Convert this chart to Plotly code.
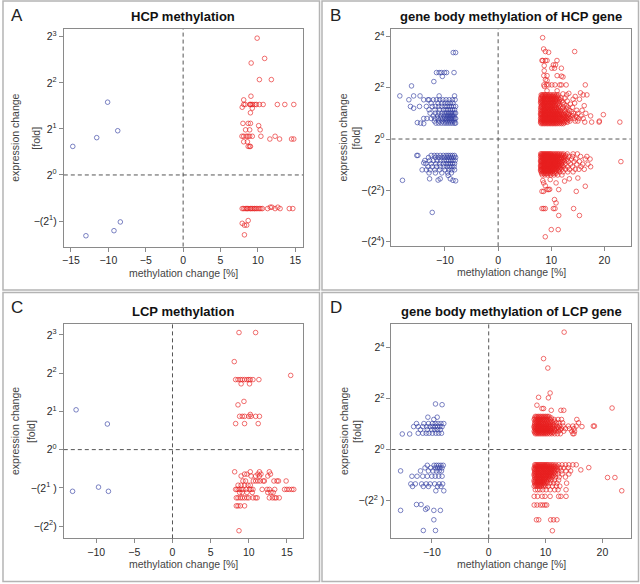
#! python3
# plot.py - methylation change vs expression change, four panels

import plotly.graph_objects as go

W, H = 640, 584

##################################################################################################
# data: x = methylation change [%], y = signed log2 expression fold change

# A: HCP methylation
a_red_pts = [(9.9, 2.97), (10.9, 2.53), (9.1, 2.43), (10.2, 2.07), (11.8, 2.07), (9.07, 1.71), (8.1, 1.63),
             (7.9, 1.47), (9.25, 1.45), (9.0, 1.35), (10.1, 1.07), (8.7, -0.99), (7.9, -1.05), (8.2, -1.09),
             (8.5, -1.09), (8.2, -1.30)]
a_red_rows = [
    (1.53, [8.1, 8.3, 8.9, 9.0, 9.1, 9.3, 9.6, 9.8, 10.2, 10.7, 12.6, 13.6, 14.8]),
    (1.12, [8.0, 8.7, 9.0]),
    (0.98, [8.35, 8.9, 10.3]),
    (0.84, [7.87, 8.1, 8.45, 8.67, 8.9, 9.25, 10.4, 12.3]),
    (0.78, [11.6, 12.9, 14.5, 14.8]),
    (0.72, [8.1, 8.6]),
    (0.62, [8.7, 8.9, 9.0]),
    (-0.70, [11.65, 11.87, 12.67]),
    (-0.73, [7.9, 8.1, 8.3, 8.5, 8.6, 8.8, 9.0, 9.1, 9.3, 9.5, 9.6, 9.8, 10.0, 10.2, 10.4, 10.6,
             11.3, 12.3, 12.97, 14.2, 14.67]),
]
a_blue_pts = [(-10.1, 1.58), (-14.76, 0.62), (-11.56, 0.81), (-8.75, 0.96), (-8.4, -1.02), (-9.25, -1.21),
              (-13.0, -1.32)]

# B: gene body methylation of HCP gene
b_red_pts = [(8.37, 3.95), (8.56, 3.51), (8.9, 3.41), (9.5, 3.38), (14.4, 3.41), (8.25, 3.06), (8.4, 3.06),
             (8.9, 3.06), (9.2, 3.06), (11.07, 3.06), (10.4, 2.89), (10.8, 2.89), (8.67, 2.86), (11.9, 2.76),
             (10.1, 2.76), (10.6, 2.76), (8.67, 2.66), (8.6, 2.47), (9.2, 2.47), (11.1, 2.47), (11.9, 2.45),
             (12.2, 2.42), (8.9, 2.31), (9.2, 2.28), (16.4, 2.11), (8.7, 2.05), (11.1, 1.88), (9.2, 1.88),
             (12.2, 1.76), (12.9, 1.72), (13.3, 1.78), (14.5, 1.66), (16.0, 1.72), (16.7, 1.72), (15.5, 1.80),
             (15.3, 1.55), (14.1, 1.55), (14.4, 1.40), (16.2, 1.30), (19.8, 0.95), (22.9, 0.66), (19.0, 0.66),
             (19.05, 0.70), (17.6, 0.66), (16.3, 0.66),
             (8.56, -1.71), (8.87, -1.82), (9.2, -1.97), (8.25, -2.04), (8.56, -2.04), (9.5, -1.97), (9.7, -1.96),
             (10.9, -1.71), (11.4, -1.97), (14.7, -2.04), (16.4, -1.84), (10.6, -2.36), (10.9, -2.49),
             (8.25, -2.71), (8.56, -2.71), (8.87, -2.71), (10.4, -2.71), (10.7, -2.71), (14.2, -2.71),
             (11.4, -2.98), (15.3, -2.98), (10.0, -3.53), (11.3, -3.53), (8.87, -3.81), (8.4, -1.62),
             (9.8, -1.58), (12.5, -1.64), (13.4, -1.55), (15.0, -1.52)]
b_red_rows = [
    (2.11, [8.6, 9.1, 9.5, 10.1, 10.7, 11.6, 11.9, 12.8]),
    (1.72, [8.1, 8.3, 8.5, 8.7, 8.9, 9.1, 9.4, 9.7, 10.0, 10.3, 10.6, 11.0, 11.3]),
    (1.66, [8.2, 8.4, 8.8, 9.2, 9.5, 9.8, 10.1, 10.4, 10.8, 11.2]),
    (1.60, [8.0, 8.3, 8.6, 9.0, 9.3, 9.6, 9.9, 10.2, 10.5, 10.9, 11.3, 11.8, 12.6]),
    (1.54, [8.1, 8.5, 8.8, 9.1, 9.4, 9.8, 10.1, 10.4, 10.7, 11.0, 11.6]),
    (1.48, [8.0, 8.2, 8.4, 8.7, 9.0, 9.3, 9.6, 9.9, 10.2, 10.5, 10.8, 11.1, 11.5, 12.0, 13.0]),
    (1.42, [8.0, 8.3, 8.6, 8.9, 9.2, 9.5, 9.8, 10.1, 10.4, 10.9, 11.4, 12.2]),
    (1.36, [8.1, 8.4, 8.7, 9.0, 9.3, 9.6, 9.9, 10.3, 10.7, 11.2, 12.4, 13.6]),
    (1.30, [8.2, 8.5, 8.8, 9.2, 9.5, 9.8, 10.2, 10.5, 10.8, 11.5, 12.8]),
    (1.24, [8.0, 8.2, 8.5, 8.8, 9.1, 9.4, 9.7, 10.0, 10.3, 10.6, 10.9, 11.3, 11.7, 12.2, 13.1, 14.0]),
    (1.18, [8.1, 8.4, 8.7, 9.0, 9.3, 9.6, 9.9, 10.2, 10.6, 11.0, 11.4, 12.0, 12.9]),
    (1.12, [8.0, 8.3, 8.6, 8.9, 9.2, 9.5, 9.8, 10.1, 10.4, 10.8, 11.2, 11.6, 12.5, 13.4, 14.8, 15.8]),
    (1.06, [8.1, 8.4, 8.7, 9.0, 9.3, 9.6, 9.9, 10.2, 10.5, 10.9, 11.3, 11.7, 12.6, 13.8]),
    (1.00, [8.0, 8.2, 8.5, 8.8, 9.1, 9.4, 9.7, 10.0, 10.3, 10.6, 10.9, 11.2, 11.5, 11.9, 12.3, 12.8, 13.3,
            14.2, 15.0, 16.5]),
    (0.95, [8.0, 8.3, 8.6, 8.9, 9.2, 9.5, 9.8, 10.1, 10.4, 10.7, 11.0, 11.3, 11.6, 12.0, 12.4, 13.2]),
    (0.90, [8.1, 8.4, 8.7, 9.0, 9.3, 9.6, 9.9, 10.2, 10.5, 10.8, 11.1, 11.4, 11.8, 12.2, 12.6, 13.0, 13.5,
            14.0, 14.6, 15.6, 17.4]),
    (0.85, [8.1, 8.4, 8.7, 9.0, 9.3, 9.6, 9.9, 10.2, 10.5, 10.8, 11.2, 11.6, 12.3, 12.8, 13.3, 14.8]),
    (0.80, [8.0, 8.3, 8.6, 8.9, 9.2, 9.5, 9.8, 10.1, 10.4, 10.7, 11.0, 11.4, 11.8, 12.1, 12.5, 13.0, 13.6,
            14.3, 15.2, 16.0]),
    (0.75, [8.1, 8.4, 8.7, 9.0, 9.3, 9.6, 9.9, 10.2, 10.5, 10.8, 11.1, 11.5, 11.9, 12.2, 12.7, 13.2]),
    (0.70, [8.0, 8.2, 8.5, 8.8, 9.1, 9.4, 9.7, 10.0, 10.3, 10.6, 10.9, 11.2, 11.6, 12.0, 12.4, 12.9, 13.5,
            14.5, 15.0]),
    (0.65, [8.0, 8.3, 8.6, 8.9, 9.2, 9.5, 9.8, 10.1, 10.4, 10.7, 11.0, 11.3, 11.7, 12.1, 12.5, 13.0]),
    (0.60, [8.1, 8.4, 8.7, 9.0, 9.3, 9.6, 9.9, 10.2, 10.5, 10.8, 11.1, 11.5, 11.9, 12.3]),
    (-0.58, [8.0, 8.2, 8.4, 8.6, 8.8, 9.0, 9.2, 9.4, 9.6, 9.8, 10.0, 10.3, 10.6, 10.9, 11.2, 11.5, 11.9,
             12.3, 13.0, 14.1, 14.9]),
    (-0.63, [8.1, 8.3, 8.5, 8.7, 8.9, 9.1, 9.3, 9.5, 9.7, 9.9, 10.2, 10.5, 10.8, 11.1, 11.4, 11.8, 12.2,
             12.7]),
    (-0.68, [8.0, 8.3, 8.6, 8.9, 9.2, 9.5, 9.8, 10.1, 10.4, 10.7, 11.0, 11.3, 11.7, 12.1, 12.6, 13.3, 14.0,
             15.5, 16.7]),
    (-0.73, [8.1, 8.4, 8.7, 9.0, 9.3, 9.6, 9.9, 10.2, 10.5, 10.8, 11.1, 11.5, 11.9, 12.4]),
    (-0.78, [8.1, 8.4, 8.7, 9.0, 9.3, 9.6, 9.9, 10.2, 10.5, 10.8, 11.1, 11.5, 11.9, 12.4, 13.0, 13.8, 14.6,
             16.4, 17.3]),
    (-0.83, [8.0, 8.3, 8.6, 8.9, 9.2, 9.5, 9.8, 10.1, 10.4, 10.7, 11.0, 11.3, 11.7, 12.2, 12.8]),
    (-0.88, [8.0, 8.2, 8.5, 8.8, 9.1, 9.4, 9.7, 10.0, 10.3, 10.6, 10.9, 11.2, 11.6, 12.0, 12.5, 13.2, 14.3,
             15.3, 23.1]),
    (-0.93, [8.1, 8.4, 8.7, 9.0, 9.3, 9.6, 9.9, 10.2, 10.5, 10.8, 11.1, 11.5, 12.0]),
    (-0.98, [8.1, 8.4, 8.7, 9.0, 9.3, 9.6, 9.9, 10.2, 10.5, 10.8, 11.1, 11.4, 11.9, 12.6, 13.6, 14.8, 15.9,
             16.9]),
    (-1.03, [8.0, 8.2, 8.5, 8.8, 9.1, 9.4, 9.7, 10.0, 10.3, 10.6, 10.9, 11.2, 11.6, 12.1]),
    (-1.08, [8.0, 8.3, 8.6, 8.9, 9.2, 9.5, 9.8, 10.1, 10.4, 10.7, 11.0, 11.4, 11.8, 12.3, 13.1, 14.0, 15.6,
             17.4]),
    (-1.13, [8.1, 8.4, 8.7, 9.0, 9.3, 9.6, 9.9, 10.2, 10.5, 10.8, 11.2, 11.7]),
    (-1.18, [8.0, 8.2, 8.5, 8.8, 9.1, 9.4, 9.7, 10.0, 10.3, 10.6, 11.0, 11.5, 12.0, 12.7, 13.4, 14.5, 15.2,
             16.2]),
    (-1.23, [8.0, 8.3, 8.6, 8.9, 9.2, 9.5, 9.8, 10.1, 10.4, 10.8, 11.3]),
    (-1.28, [8.1, 8.4, 8.7, 9.0, 9.3, 9.6, 9.9, 10.2, 10.6, 11.0, 11.6, 12.2, 13.1, 14.1]),
    (-1.34, [8.2, 8.6, 9.0, 9.4, 9.8, 10.3, 10.9]),
    (-1.40, [8.3, 8.8, 9.3, 9.9, 10.5, 11.2, 12.0]),
]
b_blue_pts = [(-8.45, 3.37), (-8.0, 3.37), (-11.6, 2.59), (-11.1, 2.59), (-10.7, 2.59), (-10.1, 2.59),
              (-9.7, 2.59), (-8.3, 2.59), (-10.5, 2.44), (-12.1, 2.24), (-16.3, 2.07), (-18.5, 1.68),
              (-15.9, 1.68), (-14.7, 1.68), (-11.1, 1.68), (-8.2, 1.68), (-16.8, 1.53), (-13.2, 1.53),
              (-16.5, 1.27), (-14.8, 1.27), (-15.9, 1.20), (-15.2, 0.64), (-14.6, 0.62), (-14.0, 0.60),
              (-18.0, -1.61), (-12.4, -2.86), (-12.9, -1.55), (-11.3, -1.60), (-10.9, -1.55), (-9.0, -1.55),
              (-8.5, -1.61), (-8.0, -1.63), (-9.4, -1.42), (-14.3, -1.20), (-14.0, -0.93)]
b_blue_rows = [
    (1.53, [-14.0, -13.0, -12.2, -11.6, -11.0, -10.4, -9.8, -9.2, -8.6, -8.1]),
    (1.40, [-12.6, -11.3, -10.6, -10.0, -9.5, -9.0, -8.5]),
    (1.27, [-13.5, -12.4, -11.8, -11.2, -10.6, -10.0, -9.6, -9.2, -8.8, -8.4, -8.0]),
    (1.14, [-13.0, -11.9, -11.0, -10.3, -9.8, -9.4, -9.0, -8.6, -8.2]),
    (1.01, [-12.8, -11.8, -11.2, -10.6, -10.1, -9.7, -9.4, -9.1, -8.8, -8.5, -8.2, -8.0]),
    (0.90, [-12.2, -11.4, -10.8, -10.2, -9.8, -9.5, -9.2, -8.9, -8.6, -8.3]),
    (0.80, [-14.0, -13.4, -12.6, -11.9, -11.3, -10.8, -10.4, -10.0, -9.7, -9.4, -9.1, -8.8, -8.5, -8.2, -8.0]),
    (0.70, [-12.0, -11.1, -10.5, -9.9, -9.5, -9.1, -8.7, -8.3]),
    (0.62, [-11.7, -11.2, -10.7, -10.2, -9.8, -9.4, -9.0, -8.6, -8.2, -8.0]),
    (-0.64, [-15.3, -15.1, -12.6, -12.0, -11.5, -10.9, -10.3, -9.8, -9.4, -9.0, -8.6, -8.2]),
    (-0.72, [-13.1, -11.8, -11.2, -10.6, -10.1, -9.6, -9.2, -8.8, -8.4, -8.0]),
    (-0.84, [-13.8, -12.9, -12.2, -11.5, -10.8, -10.2, -9.7, -9.3, -8.9, -8.5, -8.1]),
    (-0.96, [-13.6, -12.6, -11.7, -11.0, -10.3, -9.8, -9.4, -9.0, -8.6, -8.2]),
    (-1.08, [-13.2, -12.4, -11.6, -10.9, -10.2, -9.6, -9.1, -8.7, -8.3]),
    (-1.20, [-13.5, -12.8, -11.9, -11.0, -10.0, -9.3, -8.7, -8.2]),
    (-1.32, [-13.0, -11.8, -10.6, -9.5, -8.8]),
]

# C: LCP methylation
c_red_pts = [(8.72, 3.06), (10.9, 3.06), (8.1, 2.30), (15.5, 1.94), (9.0, 1.72), (10.1, 1.72), (9.37, 1.26),
             (8.59, 1.17), (10.2, 0.92), (8.72, -2.12)]
c_red_rows = [
    (1.83, [8.28, 8.59, 8.89, 9.15, 9.45, 9.76, 10.0, 10.2, 10.55, 11.33]),
    (0.87, [8.8, 9.15, 9.45, 10.0, 10.3, 10.9, 11.4]),
    (0.68, [8.28, 9.45, 11.24]),
    (-0.58, [8.15, 10.2, 11.4, 12.7]),
    (-0.64, [9.45, 9.76, 11.2, 11.6, 12.85]),
    (-0.69, [9.0, 10.3, 10.9, 11.4, 12.5]),
    (-0.82, [9.24, 9.58, 10.6, 10.9, 11.2, 11.5, 11.9, 12.05, 13.3, 13.7, 13.9, 14.9]),
    (-0.93, [8.6, 9.0, 9.45, 9.9, 10.2]),
    (-1.04, [8.28, 8.46, 8.72, 9.0, 9.24, 9.67, 10.1, 10.3, 10.55, 11.76, 12.4, 12.7, 13.4, 14.7, 15.0,
             15.3, 15.65, 15.9]),
    (-1.12, [8.8, 9.15, 9.76, 10.46, 12.5, 12.9, 13.2]),
    (-1.26, [8.37, 8.59, 8.89, 9.15, 9.45, 9.76, 10.0, 10.55, 10.9, 11.1, 12.7, 13.1, 13.4, 13.6, 14.0]),
    (-1.47, [8.37, 8.59, 8.89, 9.45]),
]
c_blue_pts = [(-12.64, 1.04), (-8.54, 0.67), (-13.1, -1.09), (-9.7, -0.98), (-8.4, -1.09)]

# D: gene body methylation of LCP gene
d_red_pts = [(13.27, 4.61), (9.65, 3.57), (10.4, 3.2), (10.8, 2.22), (10.5, 2.03), (8.77, 2.05), (8.48, 1.74),
             (9.37, 1.61), (9.65, 1.61), (11.0, 1.54), (12.7, 1.54), (13.2, 1.54), (21.7, 1.63), (16.4, 0.90),
             (11.2, -3.19), (20.9, -1.10), (22.2, -1.10), (23.4, -1.62), (17.6, -0.71), (16.2, -0.80)]
d_red_rows = [
    (1.30, [8.2, 8.5, 8.8, 9.1, 9.4, 9.7, 10.0, 10.3, 10.6]),
    (1.24, [8.1, 8.4, 8.7, 9.0, 9.3, 9.6, 9.9, 10.2, 10.6, 11.0]),
    (1.18, [8.0, 8.3, 8.6, 8.9, 9.2, 9.5, 9.8, 10.1, 10.4, 10.8, 11.5, 12.2, 12.8, 15.5]),
    (1.11, [8.2, 8.5, 8.8, 9.1, 9.4, 9.8, 10.2, 10.6, 11.1, 11.6]),
    (1.05, [8.1, 8.4, 8.7, 9.0, 9.3, 9.6, 10.0, 10.4, 10.8, 11.3, 11.9, 12.4, 13.0, 15.8]),
    (0.98, [8.1, 8.4, 8.7, 9.0, 9.3, 9.6, 9.9, 10.2, 10.5, 10.9, 11.4]),
    (0.92, [8.0, 8.2, 8.5, 8.8, 9.1, 9.4, 9.7, 10.0, 10.3, 10.6, 10.9, 11.2, 11.6, 12.0, 12.5, 13.1, 14.0,
            14.8, 15.4, 18.4, 18.6]),
    (0.87, [8.0, 8.3, 8.6, 8.9, 9.2, 9.5, 9.8, 10.1, 10.4, 10.7, 11.3, 12.2]),
    (0.82, [8.1, 8.4, 8.7, 9.0, 9.3, 9.6, 9.9, 10.2, 10.5, 10.8, 11.1, 11.5, 11.9, 12.3, 12.8, 13.5, 14.2,
            15.0]),
    (0.77, [8.2, 8.5, 8.8, 9.1, 9.4, 9.7, 10.0, 10.3, 10.6, 10.9, 11.6, 12.6]),
    (0.72, [8.0, 8.3, 8.6, 8.9, 9.2, 9.5, 9.8, 10.1, 10.4, 10.7, 11.0, 11.4, 11.8, 12.3, 13.2, 14.6, 15.1]),
    (0.67, [8.1, 8.4, 8.7, 9.0, 9.3, 9.6, 9.9, 10.2, 10.5, 10.9, 11.3]),
    (0.62, [8.2, 8.5, 8.8, 9.1, 9.4, 9.7, 10.0, 10.3, 10.7, 11.1, 11.6, 12.1, 12.6, 14.8, 15.0]),
    (-0.60, [8.1, 8.3, 8.5, 8.7, 8.9, 9.1, 9.3, 9.5, 9.7, 9.9, 10.1, 10.3, 10.5, 10.8, 11.1, 11.4, 11.8,
             12.3, 12.9, 13.5, 14.1, 14.8, 15.4]),
    (-0.66, [8.2, 8.4, 8.6, 8.8, 9.0, 9.2, 9.4, 9.6, 9.8, 10.0, 10.2, 10.4, 10.7, 11.0, 11.3, 11.6, 12.0]),
    (-0.72, [8.0, 8.3, 8.6, 8.9, 9.2, 9.5, 9.8, 10.1, 10.4, 10.7, 11.0, 11.3, 11.7, 12.1, 12.6, 13.2, 14.0]),
    (-0.78, [8.0, 8.2, 8.5, 8.8, 9.1, 9.4, 9.7, 10.0, 10.3, 10.6, 10.9, 11.2, 11.6, 12.0]),
    (-0.84, [8.1, 8.4, 8.7, 9.0, 9.3, 9.6, 9.9, 10.2, 10.5, 10.8, 11.1, 11.4, 11.8, 12.2, 12.8, 13.6, 14.4]),
    (-0.90, [8.1, 8.4, 8.7, 9.0, 9.3, 9.6, 9.9, 10.2, 10.5, 10.8, 11.1, 11.5]),
    (-0.96, [8.0, 8.2, 8.5, 8.8, 9.1, 9.4, 9.7, 10.0, 10.3, 10.6, 10.9, 11.3, 11.7, 12.2, 12.9, 14.1]),
    (-1.02, [8.0, 8.3, 8.6, 8.9, 9.2, 9.5, 9.8, 10.1, 10.4, 10.7, 11.0, 11.4]),
    (-1.08, [8.1, 8.4, 8.7, 9.0, 9.3, 9.6, 9.9, 10.2, 10.5, 10.8, 11.2, 11.7, 12.4, 13.5]),
    (-1.14, [8.2, 8.5, 8.8, 9.1, 9.4, 9.7, 10.0, 10.3, 10.7]),
    (-1.20, [8.0, 8.3, 8.6, 8.9, 9.2, 9.5, 9.8, 10.1, 10.5, 11.0, 11.6, 12.3]),
    (-1.26, [8.0, 8.3, 8.6, 8.9, 9.2, 9.5, 9.8, 10.2]),
    (-1.32, [8.1, 8.4, 8.7, 9.0, 9.3, 9.6, 9.9, 10.3, 10.8, 11.4, 12.0, 13.7]),
    (-1.38, [8.2, 8.5, 8.8, 9.1, 9.4, 9.8]),
    (-1.44, [8.0, 8.3, 8.6, 8.9, 9.2, 9.6, 10.0, 10.5, 11.2, 11.9, 12.5]),
    (-1.58, [8.2, 8.6, 9.0, 9.5, 10.1, 10.8, 11.6, 12.2, 13.6]),
    (-1.84, [8.0, 8.6, 9.4, 9.9, 10.8, 12.3, 12.7, 13.6]),
    (-2.18, [8.0, 8.5, 9.1, 9.5, 9.9, 10.2]),
    (-2.76, [8.4, 8.8, 10.9, 11.4, 12.0]),
]
d_blue_pts = [(-9.36, 1.79), (-8.2, 1.76), (-10.7, 1.27), (-9.06, 1.27), (-9.65, 1.18), (-15.2, 0.61),
              (-13.9, 0.61), (-12.7, -2.16), (-11.9, -2.16), (-11.1, -2.35), (-10.8, -2.30), (-15.5, -2.39),
              (-11.5, -3.18), (-9.36, -3.18), (-9.65, -2.39), (-8.5, -2.39), (-9.65, -2.76)]
d_blue_rows = [
    (1.02, [-12.7, -11.4, -10.6, -9.9, -9.4, -8.9, -8.4, -7.9]),
    (0.90, [-13.2, -12.4, -11.6, -10.9, -10.3, -9.8, -9.4, -9.0, -8.6, -8.2]),
    (0.78, [-12.0, -10.8, -10.0, -9.5, -9.0, -8.5]),
    (0.64, [-12.4, -11.6, -11.0, -10.5, -9.9, -9.3, -8.8, -8.3]),
    (-0.62, [-10.8, -9.6, -9.2, -8.8, -8.4, -8.0]),
    (-0.72, [-11.2, -10.2, -9.4, -9.0, -8.6, -8.2]),
    (-0.84, [-15.5, -12.0, -10.6, -9.8, -9.2, -8.7, -8.3]),
    (-1.05, [-13.5, -12.6, -11.6, -10.8, -10.0, -9.4, -8.8, -8.2]),
    (-1.35, [-13.7, -12.9, -11.8, -11.0, -10.3, -9.5, -8.7, -8.1]),
    (-1.45, [-13.4, -11.5, -10.6, -9.0, -8.4]),
    (-1.62, [-9.3, -7.9]),
]

# tick labels
a_xticks = [-15, -10, -5, 0, 5, 10, 15]
a_yticks = [3, 2, 1, 0, -1]
a_ytext = ['2<sup>3</sup>', '2<sup>2</sup>', '2<sup>1</sup>', '2<sup>0</sup>', '\u2212(2<sup>1</sup>)']
b_xticks = [-10, 0, 10, 20]
b_yticks = [4, 2, 0, -2, -4]
b_ytext = ['2<sup>4</sup>', '2<sup>2</sup>', '2<sup>0</sup>', '\u2212(2<sup>2</sup>)', '\u2212(2<sup>4</sup>)']
c_xticks = [-10, -5, 0, 5, 10, 15]
c_yticks = [3, 2, 1, 0, -1, -2]
c_ytext = ['2<sup>3</sup>', '2<sup>2</sup>', '2<sup>1</sup>', '2<sup>0</sup>', '\u2212(2<sup>1</sup> )',
           '\u2212(2<sup>2</sup>)']
d_xticks = [-10, 0, 10, 20]
d_yticks = [4, 2, 0, -2]
d_ytext = ['2<sup>4</sup>', '2<sup>2</sup>', '2<sup>0</sup>', '\u2212(2<sup>2</sup> )']

##################################################################################################

def flatten(pts, rows):
    xs = [p[0] for p in pts]
    ys = [p[1] for p in pts]
    for y, row in rows:
        xs += row
        ys += [y] * len(row)
    return xs, ys

RED = 'rgba(232,30,30,0.8)'
BLUE = 'rgba(50,62,160,0.8)'

# letter, title, red, blue, x ticks, y ticks, y text, x range, y range, plot box px, y-title line x px
panels = [
    ('A', 'HCP methylation', flatten(a_red_pts, a_red_rows), flatten(a_blue_pts, []),
     a_xticks, a_yticks, a_ytext, [-15.96, 16.04], [-1.555, 3.17], (62, 302, 29, 247), (13, 34)),
    ('B', 'gene body methylation of HCP gene', flatten(b_red_pts, b_red_rows), flatten(b_blue_pts, b_blue_rows),
     b_xticks, b_yticks, b_ytext, [-20.07, 24.95], [-4.18, 4.29], (390.7, 630.7, 29, 246.7), (342, 355)),
    ('C', 'LCP methylation', flatten(c_red_pts, c_red_rows), flatten(c_blue_pts, []),
     c_xticks, c_yticks, c_ytext, [-14.25, 17.12], [-2.32, 3.29], (62, 302, 324.3, 539.3), (13, 29)),
    ('D', 'gene body methylation of LCP gene', flatten(d_red_pts, d_red_rows), flatten(d_blue_pts, d_blue_rows),
     d_xticks, d_yticks, d_ytext, [-17.1, 24.98], [-3.49, 4.94], (390.7, 630.7, 324.3, 539.3), (343, 356)),
]

fig = go.Figure()
shapes = []
annotations = []
FONT = 'Liberation Sans, Arial, sans-serif'


def label(text, x, y, size, color, angle=0):
    return dict(text=text, x=x / W, y=1 - y / H, xref='paper', yref='paper', xanchor='center',
                yanchor='middle', showarrow=False, textangle=angle,
                font=dict(family=FONT, size=size, color=color))


for i, (letter, title, red, blue, xt, yt, ytxt, xr, yr, box, ytl) in enumerate(panels):
    n = '' if i == 0 else str(i + 1)
    x0, x1, y0, y1 = box
    axis_style = dict(showgrid=False, zeroline=False, showline=True, linecolor='#8a8a8a', linewidth=1,
                      mirror=True, ticks='outside', ticklen=4, tickcolor='#8a8a8a',
                      tickfont=dict(family=FONT, size=10.5, color='#2a2a2a'))
    fig.layout['xaxis' + n] = dict(domain=[x0 / W, x1 / W], range=xr, tickvals=xt, anchor='y' + n,
                                   **axis_style)
    fig.layout['yaxis' + n] = dict(domain=[1 - y1 / H, 1 - y0 / H], range=yr, tickvals=yt, ticktext=ytxt,
                                   anchor='x' + n, **axis_style)

    for (xs, ys), col in ((blue, BLUE), (red, RED)):
        fig.add_trace(go.Scatter(x=xs, y=ys, mode='markers', xaxis='x' + n, yaxis='y' + n, showlegend=False,
                                 marker=dict(symbol='circle-open', size=4.6, color=col, line=dict(width=0.8))))

    # dashed zero lines
    dash = dict(color='#555555', width=1, dash='4px,3px')
    shapes.append(dict(type='line', xref='x' + n, yref='y' + n + ' domain', x0=0, x1=0, y0=0, y1=1, line=dash))
    shapes.append(dict(type='line', xref='x' + n + ' domain', yref='y' + n, x0=0, x1=1, y0=0, y1=0, line=dash))

    # panel frame
    px0 = 1 if x0 < 320 else 321
    py0 = 1 if y0 < 292 else 293
    shapes.append(dict(type='rect', xref='paper', yref='paper', x0=px0 / W, x1=(px0 + 317.5) / W,
                       y0=1 - (py0 + 289.5) / H, y1=1 - py0 / H, line=dict(color='#b4b4b4', width=1.5)))

    cx = (x0 + x1) / 2
    cy = (y0 + y1) / 2
    annotations.append(label('<b>' + title + '</b>', cx, y0 - 12, 13, '#111111'))
    annotations.append(label(letter, px0 + 14, py0 + 15, 17, '#222222'))
    annotations.append(label('methylation change [%]', cx, y1 + 26, 10.5, '#444444'))
    for lx, txt in zip(ytl, ['expression change', '[fold]']):
        annotations.append(label(txt, lx, cy, 10.5, '#444444', -90))

fig.update_layout(width=W, height=H, margin=dict(l=0, r=0, t=0, b=0), plot_bgcolor='white',
                  paper_bgcolor='white', shapes=shapes, annotations=annotations)

fig.write_html('out.html', config={'displayModeBar': False},
               post_script="document.body.style.margin='0';")
